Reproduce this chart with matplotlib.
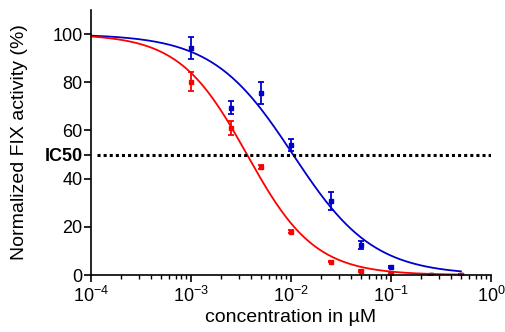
import numpy as np
import matplotlib
matplotlib.use("Agg")
import matplotlib.pyplot as plt
from matplotlib.ticker import LogLocator, NullFormatter

plt.rcParams['font.family'] = ['Liberation Sans', 'DejaVu Sans']
plt.rcParams['mathtext.fontset'] = 'custom'
plt.rcParams['mathtext.rm'] = 'Liberation Sans'
plt.rcParams['mathtext.it'] = 'Liberation Sans'

# concentrations (uM)
conc = [1e-3, 2.5e-3, 5e-3, 1e-2, 2.5e-2, 5e-2, 1e-1, 2.5e-1, 5e-1]
# blue series
blue_y = [94.2, 69.4, 75.5, 53.9, 30.7, 12.5, 3.2, 0.0, 0.0]
blue_err = [4.7, 2.7, 4.5, 2.6, 3.6, 1.8, 0.5, 0.3, 0.3]
# red series
red_y = [80.3, 61.1, 45.0, 18.0, 5.6, 1.7, 0.4, 0.0, 0.0]
red_err = [4.0, 3.0, 0.8, 0.5, 0.3, 0.3, 0.3, 0.2, 0.2]


def fit_curve(x, y):
    # simple least squares fit of a logistic (top 100, bottom 0)
    lx = np.log10(x)
    y = np.array(y)
    best = None
    for lic in np.linspace(-3.5, -1.0, 251):
        for h in np.linspace(0.5, 2.5, 201):
            pred = 100.0 / (1 + 10 ** ((lx - lic) * h))
            s = np.sum((pred - y) ** 2)
            if best is None or s < best[0]:
                best = (s, lic, h)
    return best[1], best[2]


fig = plt.figure(figsize=(5.06, 3.32), dpi=100)
ax = fig.add_axes([91/506, 57/332, 400/506, 265/332])

xs = np.logspace(-4, np.log10(0.5), 300)
for y, e, c in [(blue_y, blue_err, '#0000cc'), (red_y, red_err, '#ff0000')]:
    lic, h = fit_curve(conc, y)
    ax.plot(xs, 100.0 / (1 + 10 ** ((np.log10(xs) - lic) * h)), color=c, lw=1.3)
    ax.errorbar(conc, y, yerr=e, fmt='s', color=c, ms=3, capsize=2,
                elinewidth=1.3, capthick=1.3)

ax.axhline(50, color='black', lw=2.2, linestyle=(0, (1, 1)), xmin=0.015)

ax.set_xscale('log')
ax.set_xlim(1e-4, 1)
ax.set_ylim(0, 110)
ax.xaxis.set_major_locator(LogLocator(base=10, numticks=10))
ax.xaxis.set_minor_locator(LogLocator(base=10, subs=np.arange(2, 10), numticks=10))
ax.xaxis.set_minor_formatter(NullFormatter())

ax.set_yticks([0, 20, 40, 50, 60, 80, 100])
ax.set_yticklabels(['0', '20', '40', 'IC50', '60', '80', '100'])
ax.get_yticklabels()[3].set_fontweight('bold')

ax.spines['top'].set_visible(False)
ax.spines['right'].set_visible(False)
ax.spines['left'].set_linewidth(1.2)
ax.spines['bottom'].set_linewidth(1.2)
ax.tick_params(axis='both', which='major', direction='out', length=5, width=1.2,
               labelsize=13)
ax.tick_params(axis='y', which='major', pad=1)
ax.tick_params(axis='x', which='major', pad=3)
ax.tick_params(axis='x', which='minor', direction='out', length=3, width=1)

ax.set_xlabel('concentration in µM', fontsize=14, labelpad=2)
ax.set_ylabel('Normalized FIX activity (%)', fontsize=14, labelpad=12)

fig.savefig('out.png', dpi=100)
